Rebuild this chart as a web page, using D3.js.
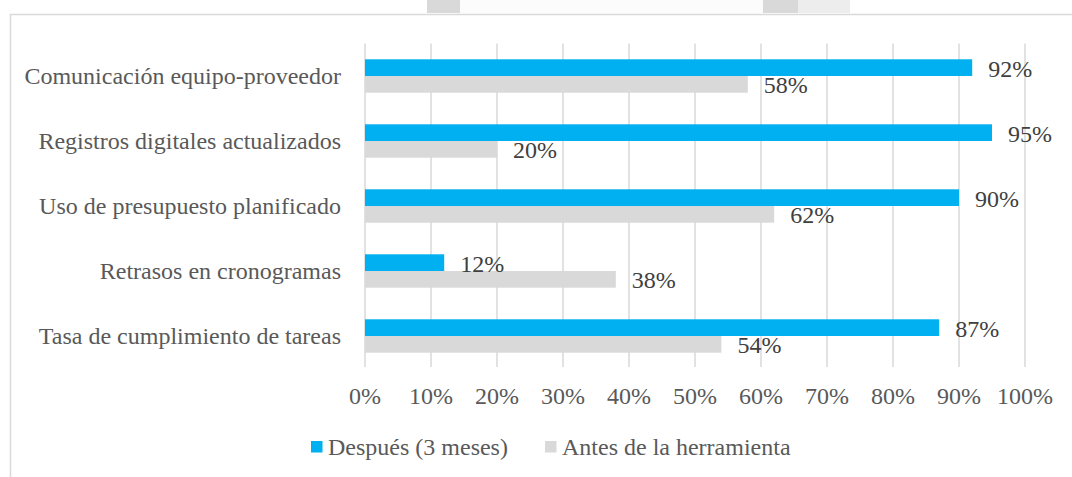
<!DOCTYPE html>
<html>
<head>
<meta charset="utf-8">
<script src="https://cdn.jsdelivr.net/npm/d3@7"></script>
<style>
  body { margin:0; background:#fff; }
  text { font-family:"Liberation Serif", "Times New Roman", serif; }
</style>
</head>
<body>
<svg width="1072" height="477"></svg>
<script>
// data
const categories = ['Comunicación equipo-proveedor', 'Registros digitales actualizados',
                    'Uso de presupuesto planificado', 'Retrasos en cronogramas',
                    'Tasa de cumplimiento de tareas'];
const despues = [92, 95, 90, 12, 87];   // Después (3 meses)
const antes   = [58, 20, 62, 38, 54];   // Antes de la herramienta
const seriesNames = ['Después (3 meses)', 'Antes de la herramienta'];
const ticks = [0,10,20,30,40,50,60,70,80,90,100];

const colors = ['#00b0f0', '#d9d9d9'];
const fs = 24;
const svg = d3.select('svg');

// faint frame + watermark scraps from the source page
[[427,460,'#d9d9d9'],[763,798,'#d9d9d9'],[460,763,'#fcfcfc'],[798,850,'#ededed']].forEach(d=>{
  svg.append('rect').attr('x',d[0]).attr('y',0).attr('width',d[1]-d[0]).attr('height',13).attr('fill',d[2]);
});
svg.append('path').attr('d','M10.5,477 V14.5 H1072').attr('fill','none').attr('stroke','#d9d9d9').attr('stroke-width',1.5);

const x = d3.scaleLinear().domain([0,100]).range([365,1025]);
const y = d3.scaleBand().domain(categories).range([43.5,368.5]);
const barH = 16.7;

// gridlines
svg.append('g').selectAll('line').data(ticks).enter().append('line')
  .attr('x1',d=>x(d)).attr('x2',d=>x(d)).attr('y1',y.range()[0]).attr('y2',367)
  .attr('stroke','#d9d9d9').attr('stroke-width',1.5);

// tick labels
svg.append('g').selectAll('text').data(ticks).enter().append('text')
  .attr('x',d=>x(d)).attr('y',404).attr('text-anchor','middle')
  .attr('font-size',fs).attr('fill','#595959').text(d=>d+'%');

// category labels
svg.append('g').selectAll('text').data(categories).enter().append('text')
  .attr('x',341).attr('y',d=>y(d)+y.bandwidth()/2+8).attr('text-anchor','end')
  .attr('font-size',fs).attr('fill','#595959').text(d=>d);

// bars first, then data labels on top
const series = [despues, antes].map((vals,si)=>vals.map((v,i)=>({v, c:categories[i], si})));
const yy = d => y(d.c)+y.bandwidth()/2 - barH + d.si*barH;

series.forEach((rows,si)=>{
  svg.append('g').selectAll('rect').data(rows).enter().append('rect')
    .attr('x',x(0)).attr('y',yy).attr('width',d=>x(d.v)-x(0)).attr('height',barH)
    .attr('fill',colors[si]);
});
series.forEach(rows=>{
  svg.append('g').selectAll('text').data(rows).enter().append('text')
    .attr('x',d=>x(d.v)+16).attr('y',d=>yy(d)+barH/2+9)
    .attr('font-size',fs).attr('fill','#404040').text(d=>d.v+'%');
});

// legend
const lx = [311, 545];
seriesNames.forEach((n,i)=>{
  svg.append('rect').attr('x',lx[i]).attr('y',441).attr('width',11.5).attr('height',11.5).attr('fill',colors[i]);
  svg.append('text').attr('x',lx[i]+17).attr('y',455).attr('font-size',fs).attr('fill','#595959').text(n);
});
</script>
</body>
</html>
